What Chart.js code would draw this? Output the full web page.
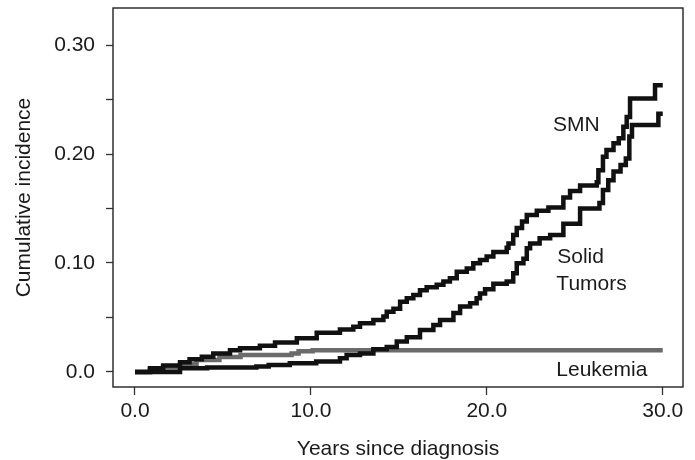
<!DOCTYPE html>
<html>
<head>
<meta charset="utf-8">
<script src="https://cdn.jsdelivr.net/npm/chart.js@4/dist/chart.umd.min.js"></script>
<style>
  html, body { margin: 0; padding: 0; background: #fff; }
  #wrap { width: 695px; height: 460px; position: relative; }
</style>
</head>
<body>
<div id="wrap"><canvas id="ci"></canvas></div>
<script>
// cumulative incidence step curves
const smnYears = [0, 0.85, 1.6, 2.56, 3.1, 3.8, 4.45, 5.4, 5.97, 7.1, 7.96, 9.2, 10.33, 11.65, 12.41, 12.79, 13.55, 14.12, 14.31, 14.69, 15.07, 15.45, 15.82, 16.2, 16.58, 17.15, 17.53, 17.9, 18.29, 18.86, 19.23, 19.61, 19.99, 20.37, 21.13, 21.23, 21.5, 21.7, 22.0, 22.27, 22.84, 23.5, 24.35, 24.73, 25.3, 26.25, 26.34, 26.6, 26.8, 27.2, 27.5, 27.76, 27.95, 28.14, 29.56, 30.0];
const smnIncidence = [0, 0.0034, 0.006, 0.009, 0.0116, 0.014, 0.017, 0.020, 0.0217, 0.024, 0.027, 0.031, 0.036, 0.039, 0.0416, 0.0447, 0.0477, 0.0508, 0.0553, 0.058, 0.0645, 0.0676, 0.0706, 0.075, 0.0777, 0.080, 0.083, 0.086, 0.092, 0.095, 0.0997, 0.1027, 0.106, 0.110, 0.114, 0.118, 0.1257, 0.132, 0.138, 0.144, 0.148, 0.151, 0.160, 0.166, 0.171, 0.174, 0.185, 0.1975, 0.2037, 0.2098, 0.2144, 0.225, 0.234, 0.251, 0.263, 0.263];

const solidYears = [0, 2.56, 4.1, 6.9, 7.6, 8.8, 10.3, 11.65, 12.03, 12.79, 13.55, 14.31, 14.88, 15.45, 16.2, 16.96, 17.34, 18.1, 18.48, 19.05, 19.42, 19.61, 19.9, 20.37, 21.13, 21.5, 21.7, 22.08, 22.27, 22.46, 23.0, 23.6, 24.35, 25.3, 26.4, 26.6, 26.9, 27.2, 27.6, 27.9, 28.1, 28.25, 29.75, 30.0];
const solidIncidence = [0, 0.0034, 0.004, 0.005, 0.0064, 0.008, 0.0095, 0.0125, 0.0156, 0.017, 0.0208, 0.023, 0.028, 0.0318, 0.0385, 0.043, 0.0477, 0.054, 0.060, 0.063, 0.0676, 0.072, 0.076, 0.081, 0.083, 0.0905, 0.0997, 0.104, 0.1135, 0.118, 0.1226, 0.1257, 0.136, 0.150, 0.155, 0.167, 0.176, 0.184, 0.190, 0.196, 0.216, 0.2266, 0.237, 0.237];

const leukYears = [0, 0.85, 1.6, 2.56, 3.5, 4.8, 6.0, 8.9, 9.3, 10.1, 30.0];
const leukIncidence = [0, 0.002, 0.004, 0.007, 0.011, 0.0138, 0.0156, 0.017, 0.019, 0.020, 0.020];

// axis ticks
const xTickValues = [0, 10, 20, 30];
const xTickLabels = ["0.0", "10.0", "20.0", "30.0"];
const yTickValues = [0, 0.05, 0.10, 0.15, 0.20, 0.25, 0.30];
const yTickLabels = ["0.0", "", "0.10", "", "0.20", "", "0.30"];

// curve names written beside the lines: [text, year, incidence at baseline]
const curveNames = [
  ["SMN", 23.76, 0.2211],
  ["Solid", 24.0, 0.1000],
  ["Tumors", 23.95, 0.0752],
  ["Leukemia", 23.95, -0.0037]
];

function pairs(xs, ys) {
  return xs.map((x, i) => ({x: x, y: ys[i]}));
}

const FONT = "'Liberation Sans', Arial, Helvetica, sans-serif";
const INK = "#1a1a1a";

// box round the plot + curve names
const boxAndNames = {
  id: "boxAndNames",
  afterDraw(chart) {
    const ctx = chart.ctx, a = chart.chartArea;
    const xs = chart.scales.x, ys = chart.scales.y;
    ctx.save();
    ctx.strokeStyle = "#222";
    ctx.lineWidth = 1.4;
    ctx.strokeRect(a.left, a.top, a.right - a.left, a.bottom - a.top);
    ctx.fillStyle = INK;
    ctx.font = "21px " + FONT;
    ctx.textAlign = "left";
    ctx.textBaseline = "alphabetic";
    curveNames.forEach(n => {
      ctx.fillText(n[0], xs.getPixelForValue(n[1]), ys.getPixelForValue(n[2]));
    });
    ctx.restore();
  }
};

function curve(label, xs, ys, color, order) {
  return {
    label: label,
    data: pairs(xs, ys),
    borderColor: color,
    borderWidth: 4.5,
    stepped: "before",
    pointRadius: 0,
    order: order
  };
}

new Chart(document.getElementById("ci"), {
  type: "line",
  data: {
    datasets: [
      curve("SMN", smnYears, smnIncidence, "#111", 1),
      curve("Solid Tumors", solidYears, solidIncidence, "#111", 2),
      curve("Leukemia", leukYears, leukIncidence, "#6b6b6b", 3)
    ]
  },
  options: {
    responsive: true,
    maintainAspectRatio: false,
    animation: false,
    layout: { padding: { left: 0, top: 8, right: 12, bottom: 0 } },
    plugins: {
      legend: { display: false },
      tooltip: { enabled: false }
    },
    scales: {
      x: {
        type: "linear",
        min: -1.25,
        max: 31.15,
        afterBuildTicks: s => { s.ticks = xTickValues.map(v => ({value: v})); },
        afterFit: s => { s.height = 73; s.paddingLeft = 0; s.paddingRight = 0; },
        ticks: {
          autoSkip: false,
          maxRotation: 0,
          padding: 4,
          color: INK,
          font: { family: FONT, size: 21 },
          callback: (v, i) => xTickLabels[i]
        },
        grid: {
          drawOnChartArea: false,
          drawTicks: true,
          tickLength: 8,
          tickColor: "#333",
          tickWidth: 1.3
        },
        border: { display: false },
        title: {
          display: true,
          text: "Years since diagnosis",
          color: INK,
          font: { family: FONT, size: 21, lineHeight: 1.0 },
          padding: { top: 0, bottom: 0.5 }
        }
      },
      y: {
        type: "linear",
        min: -0.0138,
        max: 0.334,
        afterBuildTicks: s => { s.ticks = yTickValues.map(v => ({value: v})); },
        afterFit: s => { s.width = 113; s.paddingTop = 0; s.paddingBottom = 0; },
        ticks: {
          autoSkip: false,
          padding: 11,
          color: INK,
          font: { family: FONT, size: 21 },
          callback: (v, i) => yTickLabels[i]
        },
        grid: {
          drawOnChartArea: false,
          drawTicks: true,
          tickLength: 7,
          tickColor: "#333",
          tickWidth: 1.3
        },
        border: { display: false },
        title: {
          display: true,
          text: "Cumulative incidence",
          color: INK,
          font: { family: FONT, size: 21, lineHeight: 1.2 },
          padding: { top: 11.4, bottom: 0 }
        }
      }
    }
  },
  plugins: [boxAndNames]
});
</script>
</body>
</html>
